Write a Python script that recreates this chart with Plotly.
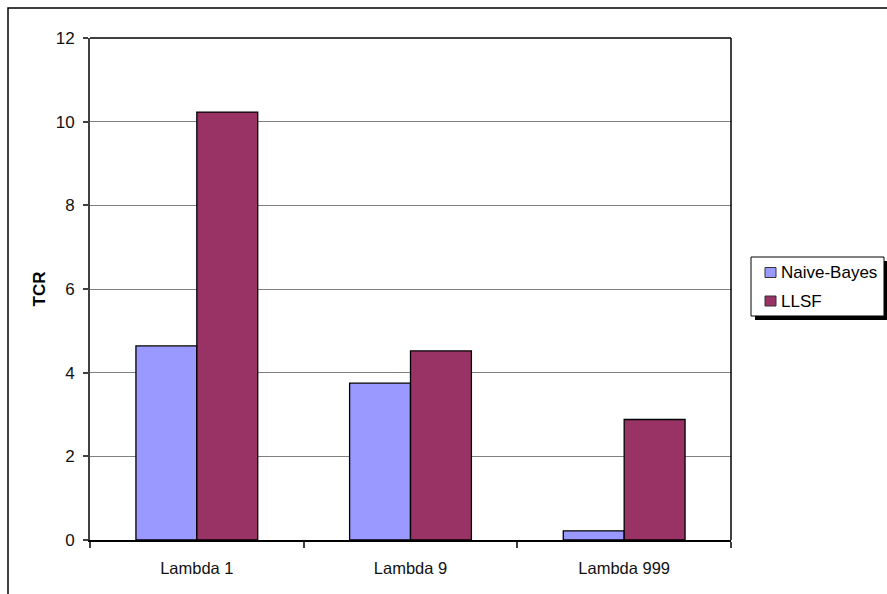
import plotly.graph_objects as go

categories = ["Lambda 1", "Lambda 9", "Lambda 999"]
naive_bayes = [4.64, 3.75, 0.22]
llsf = [10.23, 4.52, 2.88]
series_names = ["Naive-Bayes", "LLSF"]
series_colors = ["#9999FF", "#993366"]
y_ticks = [0, 2, 4, 6, 8, 10, 12]

W, H = 887, 594
L, R, T, B = 90, 731, 38, 540
pw, ph = R - L, B - T

def px(x):
    return (x - L) / pw

def py(y):
    return (B - y) / ph

fig = go.Figure()
for name, vals, col in zip(series_names, [naive_bayes, llsf], series_colors):
    fig.add_trace(go.Bar(x=categories, y=vals, name=name,
                         marker=dict(color=col, line=dict(color="black", width=1.3))))

shapes = [
    # outer frame (top and left)
    dict(type="path", xref="paper", yref="paper",
         path=f"M {px(8)} {py(594)} L {px(8)} {py(8)} L {px(887)} {py(8)}",
         line=dict(color="black", width=1.5), layer="above"),
    # legend shadow
    dict(type="rect", xref="paper", yref="paper",
         x0=px(755), x1=px(887), y0=py(320), y1=py(261),
         fillcolor="black", line=dict(width=0), layer="below"),
    # legend box
    dict(type="rect", xref="paper", yref="paper",
         x0=px(751), x1=px(884), y0=py(316), y1=py(257),
         fillcolor="white", line=dict(color="black", width=1), layer="below"),
    # top border and right border of plot area
    dict(type="line", xref="paper", yref="paper", x0=0, x1=1, y0=1, y1=1,
         line=dict(color="black", width=1.5)),
    dict(type="line", xref="paper", yref="paper", x0=1, x1=1, y0=0, y1=1,
         line=dict(color="black", width=1.5)),
]

annotations = []
legend_rows = [272.5, 301]
for name, col, yc in zip(series_names, series_colors, legend_rows):
    shapes.append(dict(type="rect", xref="paper", yref="paper",
                       x0=px(765), x1=px(776), y0=py(yc + 5), y1=py(yc - 5),
                       fillcolor=col, line=dict(color="#333333", width=1)))
    annotations.append(dict(text=name, xref="paper", yref="paper",
                            x=px(779), y=py(yc), xanchor="left", yanchor="middle",
                            showarrow=False, font=dict(size=17, color="black")))

fig.update_layout(
    width=W, height=H,
    margin=dict(l=L, r=W - R, t=T, b=H - B, pad=0),
    paper_bgcolor="white", plot_bgcolor="white",
    font=dict(family="Liberation Sans, Arial, sans-serif", size=16, color="black"),
    barmode="group", bargap=0.43, bargroupgap=0,
    showlegend=False,
    shapes=shapes,
    annotations=annotations,
    xaxis=dict(type="category", showline=True, linecolor="black", linewidth=1.5,
               ticks="outside", tickson="boundaries", ticklen=6,
               tickcolor="#404040", tickwidth=1.5, showgrid=False,
               tickfont=dict(size=16.5, color="#111111"), ticklabelstandoff=12,
               range=[-0.5, 2.5]),
    yaxis=dict(range=[0, 12], tickvals=y_ticks, ticks="outside", ticklen=5,
               tickcolor="#404040", tickwidth=1.5, showline=True, linecolor="#404040",
               linewidth=2, showgrid=True, gridcolor="#808080", gridwidth=1,
               zeroline=False, tickfont=dict(size=17, color="#111111"),
               ticklabelstandoff=5,
               title=dict(text="<b>TCR</b>", font=dict(size=17), standoff=6)),
)

fig.write_html("out.html")
